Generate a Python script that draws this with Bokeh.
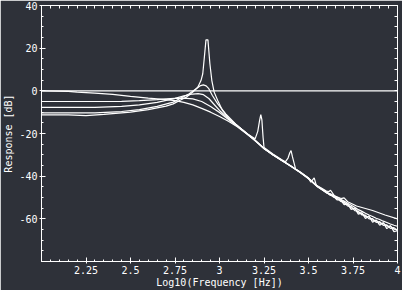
from bokeh.plotting import figure
from bokeh.models import Range1d, LinearAxis, FixedTicker
from bokeh.embed import file_html
from bokeh.resources import INLINE

BG = "#2e3139"
FG = "#ffffff"
FONT = "DejaVu Sans Mono"

# ---------------- data ----------------
x_ticks = [2.25, 2.5, 2.75, 3.0, 3.25, 3.5, 3.75, 4.0]
x_labels = ["2.25", "2.5", "2.75", "3", "3.25", "3.5", "3.75", "4"]
y_ticks = [-60, -40, -20, 0, 20, 40]
y_labels = ["-60", "-40", "-20", "0", "20", "40"]
x_title = "Log10(Frequency [Hz])"
y_title = "Response [dB]"

zero_x = [2.0, 4.0]
zero_y = [0.0, 0.0]

hf_x = [3.2, 3.25, 3.3, 3.35, 3.4, 3.45, 3.5, 3.55, 3.6, 3.62, 3.64, 3.66, 3.68,
        3.7, 3.72, 3.74, 3.76, 3.78, 3.8, 3.82, 3.84, 3.86, 3.88, 3.9, 3.92,
        3.94, 3.96, 3.98, 4.0]

A_x = [2.0, 2.15, 2.2, 2.3, 2.4, 2.5, 2.6, 2.7, 2.75, 2.8, 2.85, 2.9, 2.95,
       3.0, 3.05, 3.1, 3.15] + hf_x
A_y = [0.0, -0.3, -0.6, -1.1, -1.7, -2.6, -3.4, -4.1, -4.6, -5.4, -6.6, -8.2,
       -10.0, -12.0, -14.3, -16.8, -20.0,
       -23.3, -27.0, -29.9, -32.5, -35.1, -37.9, -40.9, -44.6, -47.3, -48.2,
       -49.0, -49.9, -50.8, -51.7, -52.7, -53.6, -54.6, -55.7, -56.5, -57.4,
       -58.2, -58.9, -59.7, -60.3, -61.1, -61.7, -62.4, -63.0, -63.5]

B_x = [2.0, 2.3, 2.45, 2.55, 2.65, 2.7, 2.75, 2.8, 2.85, 2.9, 2.95, 3.0, 3.05,
       3.1, 3.15] + hf_x
B_y = [-5.0, -5.0, -4.9, -4.6, -4.1, -3.8, -3.5, -3.4, -3.8, -5.0, -7.3, -10.2,
       -13.4, -16.6, -19.9,
       -23.2, -27.1, -30.0, -32.6, -35.2, -38.0, -41.0, -44.8, -47.6, -48.6,
       -49.2, -50.6, -51.2, -52.5, -53.2, -54.8, -55.3, -56.9, -57.4, -58.9,
       -59.1, -60.6, -60.8, -62.0, -62.1, -63.4, -63.5, -64.8, -65.0]

C_x = [2.0, 2.3, 2.45, 2.55, 2.65, 2.7, 2.75, 2.8, 2.85, 2.88, 2.91, 2.94, 2.97,
       3.0, 3.05, 3.1, 3.15] + hf_x
C_y = [-7.8, -7.8, -7.3, -6.6, -5.4, -4.5, -3.5, -2.4, -1.5, -1.3, -1.8, -3.6,
       -6.4, -9.2, -13.0, -16.4, -19.8,
       -23.4, -27.0, -30.1, -32.7, -35.3, -38.1, -41.2, -44.9, -47.8, -48.3,
       -49.8, -50.2, -51.8, -52.2, -54.0, -54.3, -56.2, -56.4, -58.2, -58.3,
       -60.0, -59.9, -61.7, -61.3, -63.1, -62.8, -64.5, -64.1, -65.6]

D_x = [2.0, 2.3, 2.45, 2.55, 2.65, 2.74, 2.776, 2.83, 2.869, 2.89, 2.909, 2.925,
       2.94, 2.96, 2.99, 3.035, 3.09, 3.15] + hf_x
D_y = [-10.3, -10.3, -9.7, -8.8, -7.3, -5.3, -3.7, -1.4, 1.0, 2.3, 2.8, 2.3,
       1.0, -2.2, -6.1, -10.8, -15.5, -19.7,
       -23.1, -26.9, -30.0, -32.6, -35.2, -38.1, -41.1, -45.0, -47.5, -48.9,
       -49.4, -51.1, -51.0, -53.3, -53.1, -55.6, -55.0, -57.8, -57.2, -59.8,
       -58.7, -61.6, -60.5, -63.0, -61.8, -64.6, -63.2, -66.0, -65.6]

E_x = [2.0, 2.15, 2.25, 2.35, 2.5, 2.6, 2.7, 2.74, 2.776, 2.813, 2.85, 2.878,
       2.896, 2.906, 2.915, 2.924, 2.935, 2.946, 2.957, 2.97, 2.99, 3.017, 3.054,
       3.11, 3.16, 3.2, 3.215, 3.225, 3.232, 3.238, 3.245, 3.25, 3.3, 3.35, 3.37,
       3.385, 3.395, 3.402, 3.41, 3.428, 3.45, 3.5, 3.513, 3.532, 3.544, 3.572,
       3.6, 3.615, 3.624, 3.646, 3.683, 3.7, 3.72, 3.77, 3.86, 3.93, 4.0]
E_y = [-11.3, -11.3, -11.6, -11.0, -10.0, -8.8, -7.2, -6.1, -4.5, -3.0, -0.6,
       1.7, 4.8, 8.0, 15.8, 23.9, 23.9, 12.7, 4.8, -0.6, -4.5, -9.2, -13.1,
       -17.0, -20.3, -22.5, -19.0, -14.0, -11.1, -13.5, -22.0, -26.5, -29.6,
       -32.3, -33.3, -31.5, -29.0, -28.0, -31.0, -36.8, -37.8, -40.8, -42.8,
       -40.8, -44.3, -45.6, -47.0, -47.2, -46.6, -49.2, -50.5, -50.2, -52.0,
       -54.0, -56.1, -58.2, -60.0]

curves = [(zero_x, zero_y), (A_x, A_y), (B_x, B_y), (C_x, C_y), (D_x, D_y), (E_x, E_y)]

# ---------------- figure ----------------
p = figure(width=402, height=290, output_backend="svg", toolbar_location=None,
           x_range=Range1d(2.0, 4.0), y_range=Range1d(-80, 40),
           min_border_left=37, min_border_right=5, min_border_top=5,
           min_border_bottom=29,
           background_fill_color=BG, border_fill_color=BG,
           outline_line_color=FG)
p.xgrid.visible = False
p.ygrid.visible = False

x_minor = [round(2.0 + 0.05 * i, 2) for i in range(41)]
y_minor = [-80 + 5 * i for i in range(25)]


def style_main(ax, ticks, minor, labels, title, title_standoff):
    ax.ticker = FixedTicker(ticks=ticks, minor_ticks=minor)
    ax.axis_line_color = FG
    ax.axis_line_width = 1
    ax.major_tick_line_color = FG
    ax.minor_tick_line_color = FG
    ax.major_tick_in = 4
    ax.major_tick_out = 2
    ax.minor_tick_in = 2
    ax.minor_tick_out = 0
    ax.major_label_overrides = dict(zip(ticks, labels))
    ax.major_label_text_color = FG
    ax.major_label_text_font = FONT
    ax.major_label_text_font_size = "10px"
    ax.major_label_standoff = 2
    ax.axis_label = title
    ax.axis_label_text_color = FG
    ax.axis_label_text_font = FONT
    ax.axis_label_text_font_size = "10px"
    ax.axis_label_text_font_style = "normal"
    ax.axis_label_standoff = title_standoff


def style_mirror(ax, ticks):
    # mirror axis: tick marks only, no labels
    ax.ticker = FixedTicker(ticks=[], minor_ticks=ticks)
    ax.axis_line_color = FG
    ax.axis_line_width = 1
    ax.major_tick_line_color = None
    ax.minor_tick_line_color = FG
    ax.minor_tick_in = 3
    ax.minor_tick_out = 0
    ax.major_tick_in = 0
    ax.major_tick_out = 0
    ax.major_label_standoff = 0
    ax.axis_label = None


style_main(p.xaxis[0], x_ticks, x_minor, x_labels, x_title, 0)
style_main(p.yaxis[0], y_ticks, y_minor, y_labels, y_title, 2)

top = LinearAxis()
style_mirror(top, x_minor)
p.add_layout(top, "above")
right = LinearAxis()
style_mirror(right, y_minor)
p.add_layout(right, "right")

for cx, cy in curves:
    p.line(cx, cy, line_color=FG, line_width=1.2)

open("out.html", "w").write(file_html(p, INLINE))
